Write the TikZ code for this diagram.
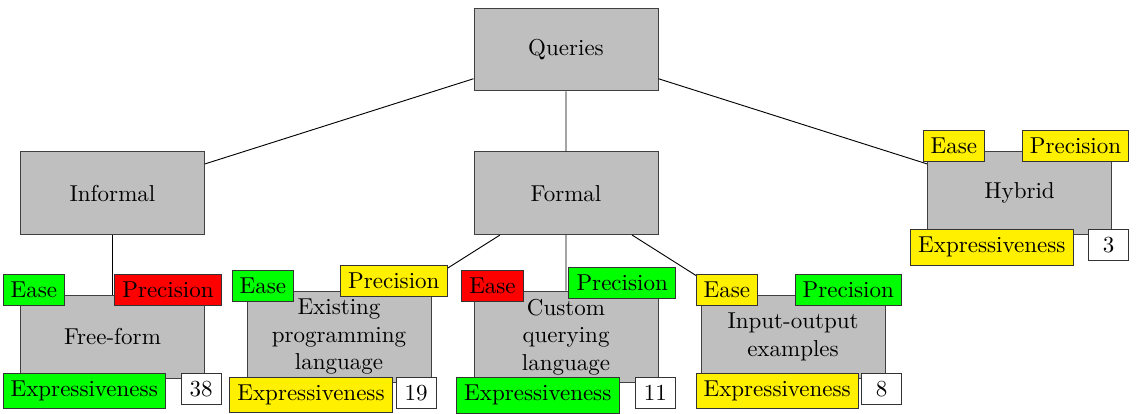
\documentclass[tikz,border=0pt]{standalone}
\usepackage{tikz}
\usetikzlibrary{positioning}
\usetikzlibrary{trees}

\definecolor{goodgreen}{RGB}{0,255,0}
\definecolor{badred}{RGB}{255,0,0}
\definecolor{midyellow}{RGB}{255,240,0}

\tikzset{
  every node/.style={
    align=center,
  },
  category/.style={draw=black!75, fill=lightgray, minimum width=80pt, minimum height=36pt},
  rating/.style={draw=black!80},
  countbox/.style={draw=black!80, fill=white, minimum width=17.4pt},
}

\begin{document}
\begin{tikzpicture}[level distance=62.5pt,
    level 1/.style={sibling distance=197.2pt},
    level 2/.style={sibling distance=98.7pt}]
    \useasboundingbox (-246.1pt,21.5pt) rectangle (248.7pt,-158.5pt);
    \node[category] (root) {Queries}
    child { node[category] (inf) {Informal}
      child { node[category] (ff) {Free-form} } }
    child { node[category] (form) {Formal}
      child { node[category] (epl) {Existing\\programming\\language} }
      child { node[category] (cql) {Custom\\querying\\language} }
      child { node[category] (io) {Input-output\\examples} } }
    child { node[category] (hyb) {Hybrid} } ;

    \node[rating, fill=goodgreen, anchor=north west] (ffease) at ([shift={(-7.6pt,9.1pt)}]ff.north west) {Ease};
    \node[rating, fill=badred, anchor=north east] (ffprec) at ([shift={(7.3pt,9.1pt)}]ff.north east) {Precision};
    \node[rating, fill=goodgreen, anchor=north west] (ffexpr) at ([shift={(-7.6pt,2.6pt)}]ff.south west) {Expressiveness};
    \node[countbox, anchor=north east] (ffnum) at ([shift={(7.3pt,2.6pt)}]ff.south east) {38};

    \node[rating, fill=goodgreen, anchor=north west] (eplease) at ([shift={(-6.5pt,9.1pt)}]epl.north west) {Ease};
    \node[rating, fill=midyellow, anchor=north east] (eplprec) at ([shift={(7pt,11.3pt)}]epl.north east) {Precision};
    \node[rating, fill=midyellow, anchor=north west] (eplexpr) at ([shift={(-7.5pt,2.6pt)}]epl.south west) {Expressiveness};
    \node[countbox, anchor=north east] (eplnum) at ([shift={(2.2pt,2.6pt)}]epl.south east) {19};

    \node[rating, fill=badred, anchor=north west] (cqlease) at ([shift={(-5.4pt,9.1pt)}]cql.north west) {Ease};
    \node[rating, fill=goodgreen, anchor=north east] (cqlprec) at ([shift={(7.6pt,10.3pt)}]cql.north east) {Precision};
    \node[rating, fill=goodgreen, anchor=north west] (cqlexpr) at ([shift={(-7.6pt,2.6pt)}]cql.south west) {Expressiveness};
    \node[countbox, anchor=north east] (cqlnum) at ([shift={(7.6pt,2.6pt)}]cql.south east) {11};

    \node[rating, fill=midyellow, anchor=north west] (ioease) at ([shift={(-2.2pt,9.1pt)}]io.north west) {Ease};
    \node[rating, fill=goodgreen, anchor=north east] (ioprec) at ([shift={(7.2pt,9.1pt)}]io.north east) {Precision};
    \node[rating, fill=midyellow, anchor=north west] (ioexpr) at ([shift={(-2.2pt,2.6pt)}]io.south west) {Expressiveness};
    \node[countbox, anchor=north east] (ionum) at ([shift={(7.2pt,2.6pt)}]io.south east) {8};

    \node[rating, fill=midyellow, anchor=north west] (hybease) at ([shift={(-2pt,9.3pt)}]hyb.north west) {Ease};
    \node[rating, fill=midyellow, anchor=north east] (hybprec) at ([shift={(7.5pt,9.3pt)}]hyb.north east) {Precision};
    \node[rating, fill=midyellow, anchor=north west] (hybexpr) at ([shift={(-7.4pt,2.6pt)}]hyb.south west) {Expressiveness};
    \node[countbox, anchor=north east] (hybnum) at ([shift={(7.4pt,2.6pt)}]hyb.south east) {3};
  \end{tikzpicture}
\end{document}
